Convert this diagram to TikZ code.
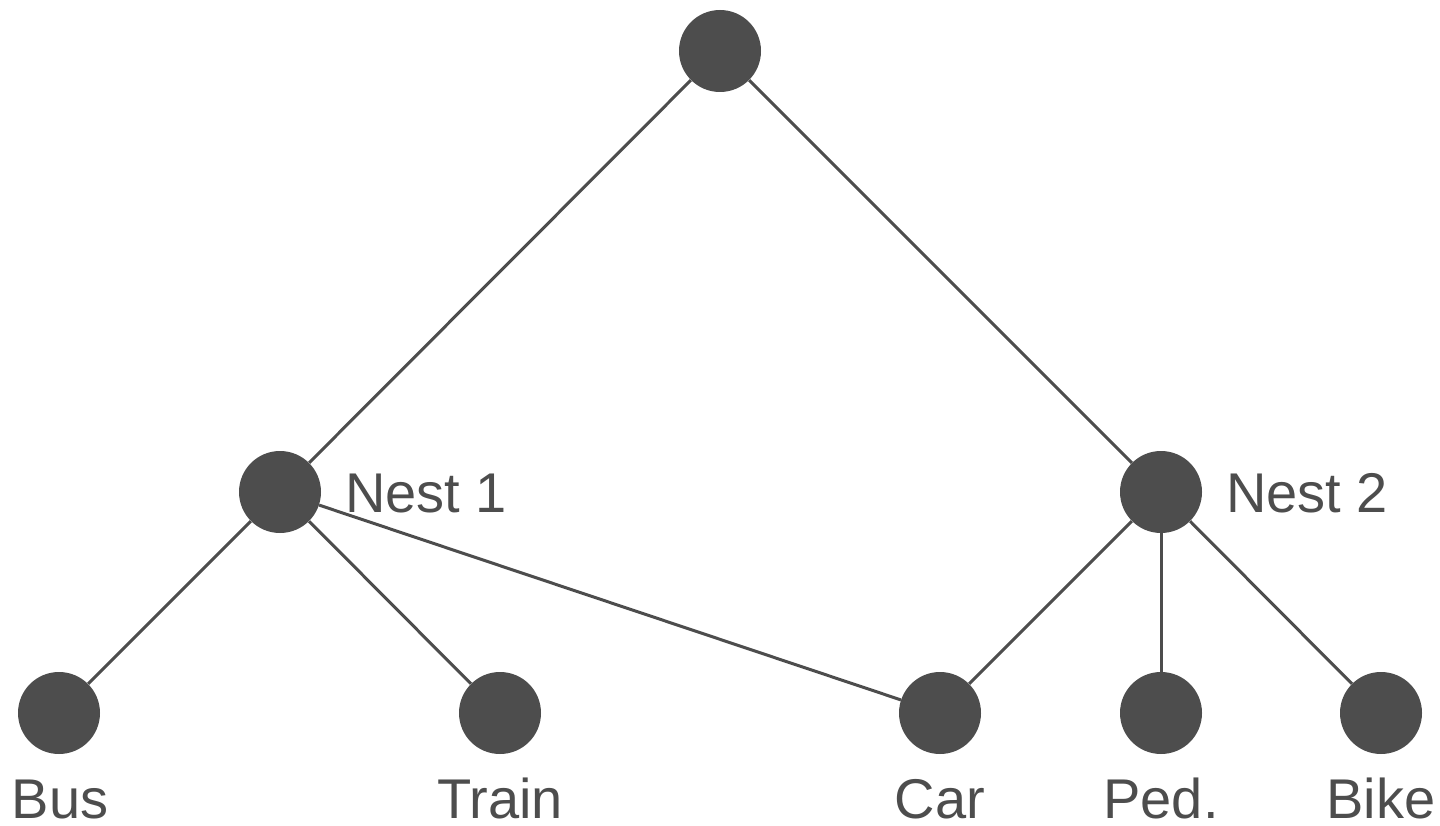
\documentclass[tikz,border=0pt]{standalone}
\usepackage{fontspec}
\setmainfont{Liberation Sans}
\definecolor{dg}{HTML}{4D4D4D}
\tikzset{
  dot/.style={circle, fill=dg, draw=none, minimum size=82pt, inner sep=0pt},
  edge/.style={draw=dg, line width=3pt},
  lab/.style={text=dg, font=\fontsize{56}{60}\selectfont, inner sep=0pt, text depth=0pt}
}
\begin{document}
\begin{tikzpicture}[x=1pt, y=-1pt]
\useasboundingbox (0,0) rectangle (1440,826);
\node[dot] (root) at (720,51) {};
\node[dot] (n1) at (280,492) {};
\node[dot] (n2) at (1161,492) {};
\node[dot] (bus) at (59,713) {};
\node[dot] (train) at (500,713) {};
\node[dot] (car) at (940,713) {};
\node[dot] (ped) at (1161,713) {};
\node[dot] (bike) at (1381,713) {};
\draw[edge] (root) -- (n1);
\draw[edge] (root) -- (n2);
\draw[edge] (n1) -- (bus);
\draw[edge] (n1) -- (train);
\draw[edge] (n1) -- (car);
\draw[edge] (n2) -- (car);
\draw[edge] (n2) -- (ped);
\draw[edge] (n2) -- (bike);
\node[lab, anchor=base west] (ln1) at (345,512) {Nest 1};
\node[lab, anchor=base west] (ln2) at (1226,512) {Nest 2};
\node[lab, anchor=base] (lbus) at (60,818) {Bus};
\node[lab, anchor=base] (ltrain) at (500,818) {Train};
\node[lab, anchor=base] (lcar) at (940,818) {Car};
\node[lab, anchor=base] (lped) at (1161,818) {Ped.};
\node[lab, anchor=base] (lbike) at (1381,818) {Bike};
\end{tikzpicture}
\end{document}
